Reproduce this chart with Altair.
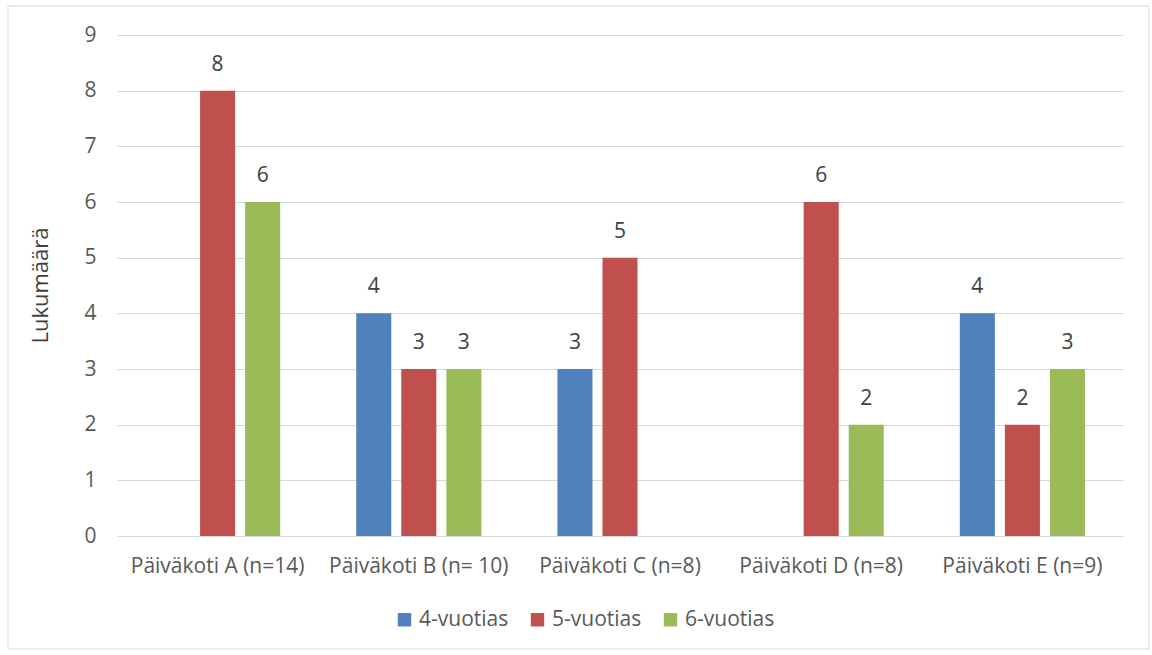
import altair as alt
import pandas as pd

categories = ["Päiväkoti A (n=14)", "Päiväkoti B (n= 10)", "Päiväkoti C (n=8)", "Päiväkoti D (n=8)", "Päiväkoti E (n=9)"]
series = ["4-vuotias", "5-vuotias", "6-vuotias"]
v4 = [None, 4, 3, None, 4]
v5 = [8, 3, 5, 6, 2]
v6 = [6, 3, None, 2, 3]
colors = ["#4F81BD", "#C0504D", "#9BBB59"]

rows = []
for s, vals in zip(series, [v4, v5, v6]):
    for c, v in zip(categories, vals):
        if v is not None:
            rows.append({"cat": c, "series": s, "value": v})
df = pd.DataFrame(rows)

FONT = "Open Sans"
GRAY = "#595959"
FS = 21

x = alt.X("cat:N", sort=categories, scale=alt.Scale(paddingInner=0, paddingOuter=0),
          axis=alt.Axis(title=None, labelAngle=0, labelFontSize=FS, labelColor=GRAY, labelFont=FONT,
                        labelPadding=19, ticks=False, domainColor="#d9d9d9", grid=False))
xo = alt.XOffset("series:N", sort=series, scale=alt.Scale(paddingInner=0.222, paddingOuter=0.844))
y = alt.Y("value:Q", scale=alt.Scale(domain=[0, 9], nice=False),
          axis=alt.Axis(title="Lukumäärä", values=list(range(10)), tickCount=10, labelFontSize=FS,
                        labelColor=GRAY, labelFont=FONT, labelPadding=21, ticks=False, domain=False,
                        gridColor="#d9d9d9", titleFont=FONT, titleFontSize=22, titleFontWeight="normal",
                        titleColor="#404040", titleAngle=-90, titleX=-77, titleY=250, titleAlign="center",
                        titleBaseline="middle"))
color = alt.Color("series:N", sort=series, scale=alt.Scale(domain=series, range=colors),
                  legend=alt.Legend(title=None, orient="none", direction="horizontal", legendX=277, legendY=574,
                                    symbolType="square", symbolSize=180, symbolStrokeWidth=0,
                                    labelFontSize=FS, labelColor=GRAY, labelFont=FONT,
                                    columnPadding=18, labelOffset=4))

bars = alt.Chart(df).mark_bar().encode(x=x, xOffset=xo, y=y, color=color)
labels = alt.Chart(df).mark_text(dy=-26, fontSize=FS, color="#404040", font=FONT, baseline="middle").encode(
    x=x, xOffset=xo, y=y, text="value:Q")
border = alt.Chart(pd.DataFrame({"a": [0]})).mark_rect(fill=None, stroke="#d9d9d9", strokeWidth=1).encode(
    x=alt.value(-109), x2=alt.value(1032), y=alt.value(-29), y2=alt.value(614))

chart = alt.layer(border, bars, labels).properties(
    width=1006, height=501,
    background="white",
    autosize=alt.AutoSizeParams(type="none"),
    padding={"left": 117, "top": 35, "right": 29, "bottom": 119},
).configure_view(stroke=None)

chart.save("out.html", embed_options={"renderer": "svg", "actions": False})
